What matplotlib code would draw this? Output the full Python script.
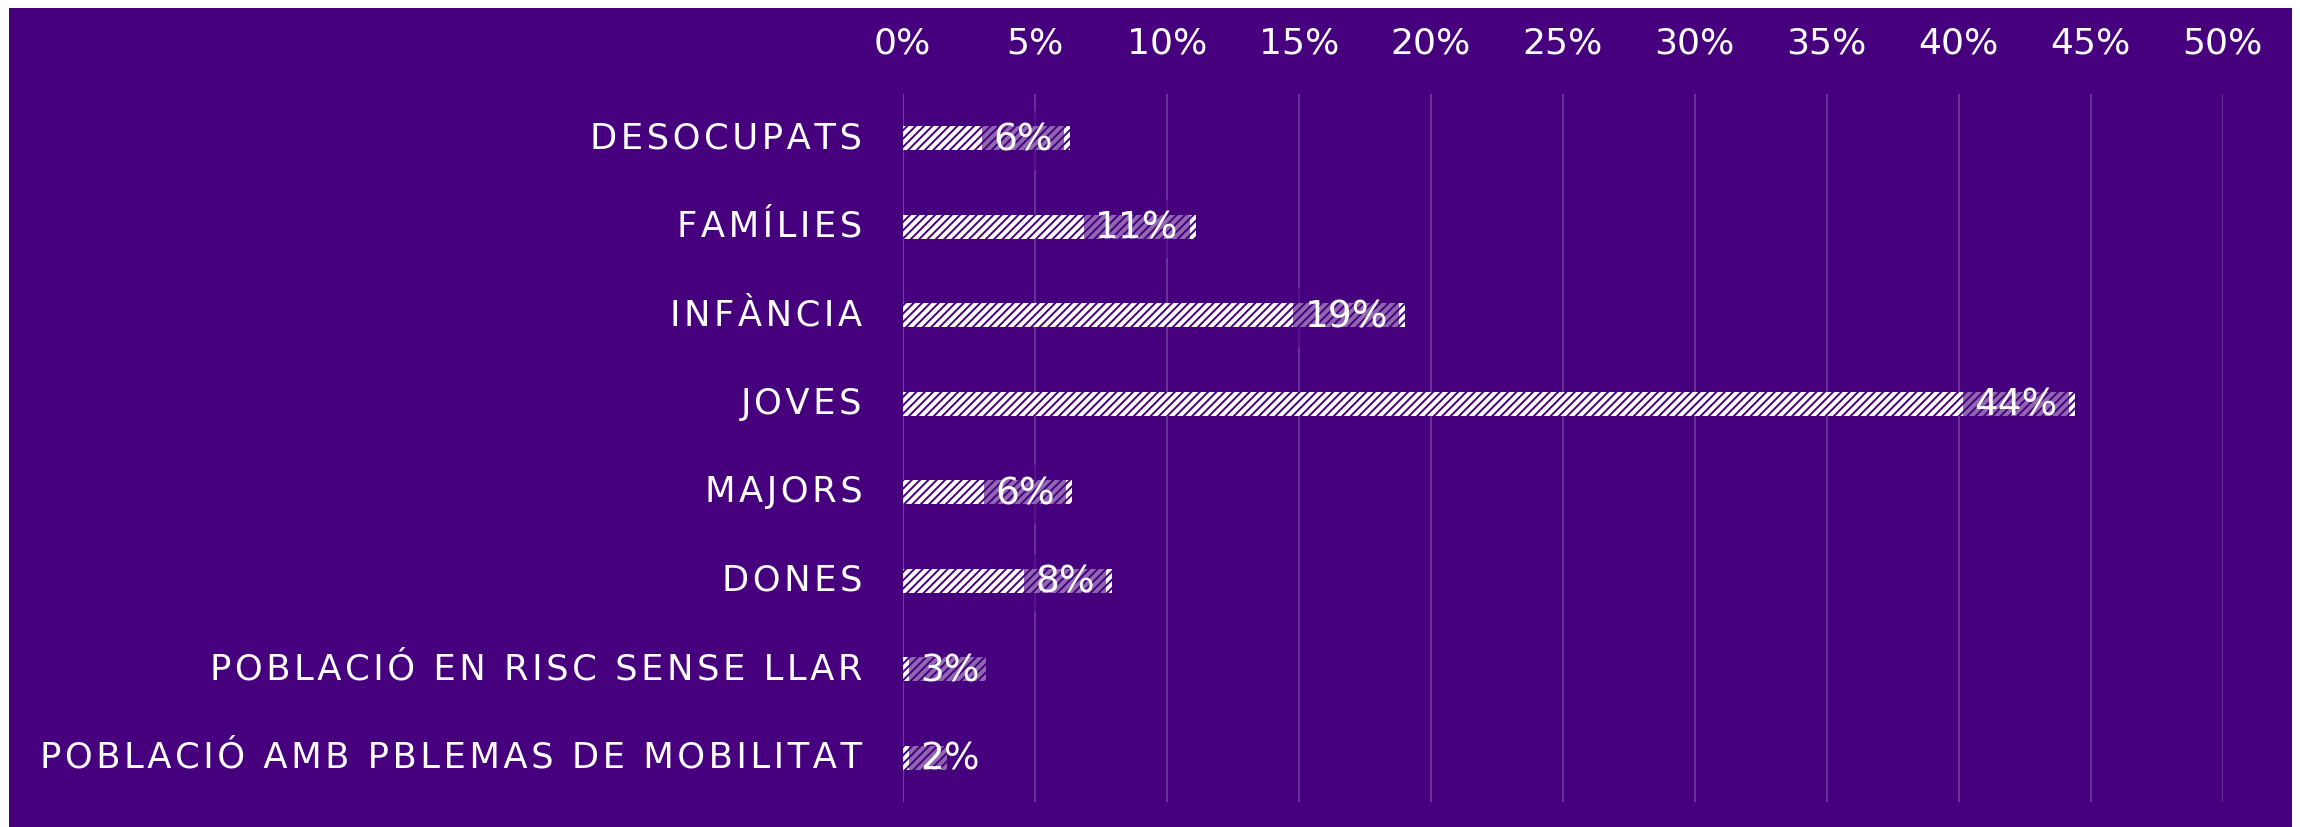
import numpy as np
import matplotlib
matplotlib.use("Agg")
import matplotlib.pyplot as plt
from matplotlib.patches import Rectangle
from matplotlib.colors import to_rgba

# ---- data ----
categories = ["DESOCUPATS", "FAMÍLIES", "INFÀNCIA", "JOVES", "MAJORS", "DONES",
              "POBLACIÓ EN RISC SENSE LLAR", "POBLACIÓ AMB PBLEMAS DE MOBILITAT"]
values = [6.34, 11.1, 19.03, 44.4, 6.4, 7.94, 3.16, 1.67]
tick_values = [0, 5, 10, 15, 20, 25, 30, 35, 40, 45, 50]
tick_labels = ["0%", "5%", "10%", "15%", "20%", "25%", "30%", "35%", "40%", "45%", "50%"]

BG = "#46007e"
plt.rcParams["font.family"] = ["DejaVu Sans"]
plt.rcParams["hatch.linewidth"] = 1.4

W, H = 2300, 827
fig = plt.figure(figsize=(W / 100, H / 100), dpi=100)
fig.patch.set_facecolor("white")
panel = Rectangle((9 / W, 0), (2292 - 9) / W, (H - 8) / H, transform=fig.transFigure,
                  facecolor=BG, edgecolor="none", lw=0, zorder=-10)
fig.patches.append(panel)

x0, x50 = 902.7, 2222.7
ytop, ybot = 94, 802
ax = fig.add_axes([x0 / W, 1 - ybot / H, (x50 - x0) / W, (ybot - ytop) / H])
ax.set_zorder(5)
ax.set_facecolor("none")

n = len(categories)
ypos = np.arange(n)
ax.barh(ypos, values, height=0.27, color="white", edgecolor=BG, hatch="////",
        linewidth=0, zorder=3)

ax.set_xlim(0, 50)
ax.set_ylim(n - 0.5, -0.5)

for t in tick_values[1:]:
    ax.axvline(t, color=(1, 1, 1, 0.24), lw=1.2, zorder=1)
ax.axvline(0, color="#7a2be2", lw=1.6, zorder=2)

for s in ax.spines.values():
    s.set_visible(False)

ax.set_xticks(tick_values)
ax.set_xticklabels(tick_labels)
ax.xaxis.tick_top()
ax.tick_params(axis="x", length=0, pad=24, labelsize=26, labelcolor="white")

def track(s):
    return "\u200a".join(s)

ax.set_yticks(ypos)
ax.set_yticklabels([track(c) for c in categories])
ax.tick_params(axis="y", length=0, pad=29, labelsize=25.5, labelcolor="white")
for lab in ax.get_yticklabels():
    lab.set_verticalalignment("center")

box_fc = to_rgba(BG, 0.6)
for i, v in enumerate(values):
    txt = f"{round(v)}%"
    yy = i - 0.02
    if v >= 4:
        ax.text(v - 0.65, yy, txt, ha="right", va="center_baseline", color="white", fontsize=27,
                zorder=5, bbox=dict(boxstyle="square,pad=0.3", fc=box_fc, ec="none"))
    else:
        ax.text(0.65, yy, txt, ha="left", va="center_baseline", color="white", fontsize=27,
                zorder=5, bbox=dict(boxstyle="square,pad=0.3", fc=box_fc, ec="none"))

fig.savefig("out.png", dpi=100, facecolor=fig.get_facecolor())
